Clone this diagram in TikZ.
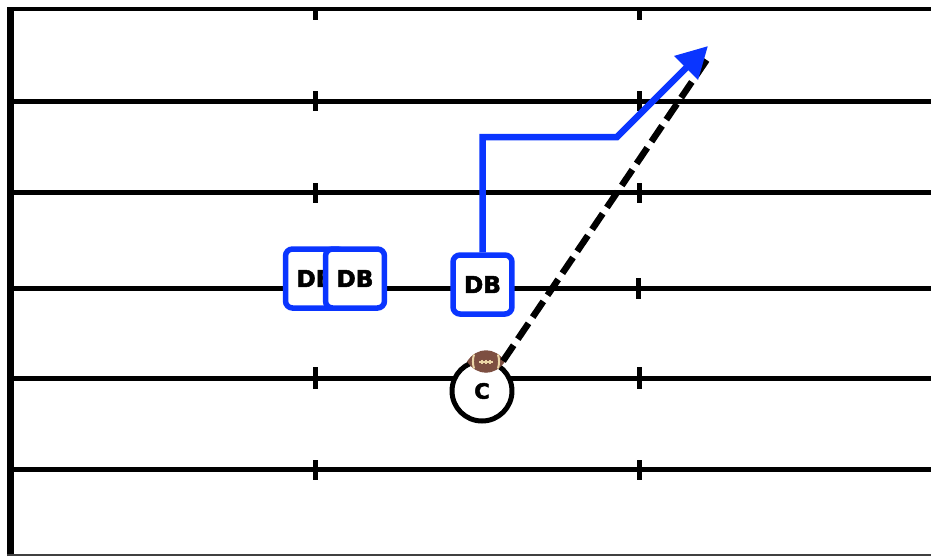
\documentclass[tikz,border=0pt]{standalone}
\usepackage{fontspec}
\newfontfamily\playerfont[FakeBold=2.2]{DejaVu Sans Bold}
\usepackage{tikz}
\usetikzlibrary{calc}
\usetikzlibrary{arrows.meta}

\definecolor{routeblue}{HTML}{0A35FF}
\definecolor{ballbrown}{HTML}{7D4F41}
\definecolor{ballstripe}{HTML}{EBD5A6}

\tikzset{
    yardline/.style={line width=0.1cm, black},
    hashmark/.style={line width=0.1cm, black},
    defender/.style={rectangle, rounded corners=0.14cm, fill=white, draw=routeblue, line width=0.11cm, minimum width=1.18cm, minimum height=1.18cm, inner sep=0pt, font=\playerfont\fontsize{13.2}{13.2}\selectfont},
    receiver/.style={circle, fill=white, draw=black, line width=0.1cm, minimum size=1.2cm, inner sep=0pt, font=\playerfont\fontsize{12}{12}\selectfont},
    route/.style={line width=0.13cm, routeblue, -{Triangle[length=0.62cm, width=0.64cm]}},
    throw/.style={line width=0.13cm, black, dash pattern=on 0.38cm off 0.15cm},
    ballstitch/.style={ballstripe, line width=0.04cm},
}

\begin{document}
\begin{tikzpicture}[x=0.02cm, y=-0.02cm]
    \useasboundingbox (0,0) rectangle (931,556);

    % field
    \draw[line width=0.13cm] (10.3,556) -- (10.3,9);
    \draw[line width=0.09cm] (7,9) -- (931,9);
    \draw[line width=0.05cm, black!75] (7,555) -- (931,555);

    \draw[yardline] (10,101) -- (931,101);
    \draw[yardline] (10,192) -- (931,192);
    \draw[yardline] (10,288) -- (931,288);
    \draw[yardline] (10,378) -- (931,378);
    \draw[yardline] (10,469.5) -- (931,469.5);

    \draw[hashmark] (315,9) -- (315,20);
    \draw[hashmark] (315,91) -- (315,111);
    \draw[hashmark] (315,183) -- (315,203);
    \draw[hashmark] (315,367) -- (315,389);
    \draw[hashmark] (315,460) -- (315,480);

    \draw[hashmark] (639,9) -- (639,20);
    \draw[hashmark] (639,91) -- (639,111);
    \draw[hashmark] (639,183) -- (639,203);
    \draw[hashmark] (638,278) -- (638,299);
    \draw[hashmark] (639,367) -- (639,389);
    \draw[hashmark] (639,460) -- (639,480);

    % players
    \node[defender] (db1) at (315,278.5) {DB};
    \node[defender] (db2) at ($(db1) + (40,0)$) {DB};
    \node[defender] (db3) at (482.5,284.5) {DB};
    \node[receiver] (c) at (482,391) {C};

    % ball
    \coordinate (ball) at (486,361.5);
    \fill[ballbrown] ($(ball) + (-19,0)$) .. controls ($(ball) + (-9,-15)$) and ($(ball) + (9,-15)$) .. ($(ball) + (19,0)$) .. controls ($(ball) + (9,15)$) and ($(ball) + (-9,15)$) .. cycle;
    \draw[ballstitch] ($(ball) + (-12,-7)$) to[bend right=15] ($(ball) + (-12,7)$);
    \draw[ballstitch] ($(ball) + (12,-7)$) to[bend left=15] ($(ball) + (12,7)$);
    \draw[ballstitch] ($(ball) + (-7,0)$) -- ($(ball) + (7,0)$);
    \draw[ballstitch] ($(ball) + (-4,-2)$) -- ($(ball) + (-4,2)$);
    \draw[ballstitch] ($(ball) + (0,-2)$) -- ($(ball) + (0,2)$);
    \draw[ballstitch] ($(ball) + (4,-2)$) -- ($(ball) + (4,2)$);

    % routes
    \coordinate (throwstart) at (503,361);
    \coordinate (throwend) at (708,58);
    \coordinate (cut) at (482.5,137);
    \coordinate (turn) at (617,137);
    \coordinate (routeend) at (708,46);

    \draw[throw] (throwstart) -- (throwend);
    \draw[route] (db3) -- (cut) -- (turn) -- (routeend);
\end{tikzpicture}
\end{document}
